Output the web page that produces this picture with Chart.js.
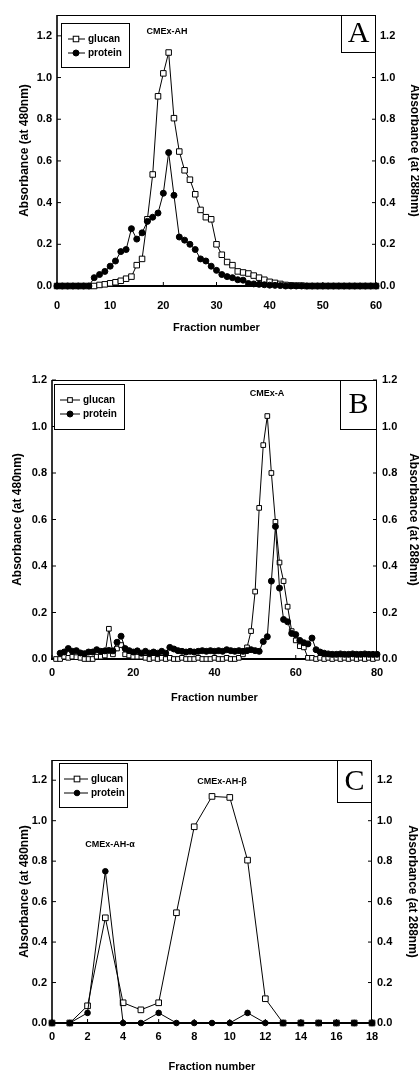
<!DOCTYPE html>
<html><head><meta charset="utf-8">
<script src="https://cdn.jsdelivr.net/npm/chart.js@4.4.0/dist/chart.umd.min.js"></script>
<style>
html,body{margin:0;padding:0;background:#fff;width:419px;height:1072px;overflow:hidden}
canvas{position:absolute;left:0;display:block}
</style></head><body>
<canvas id="ca" width="419" height="345" style="top:0px"></canvas>
<canvas id="cb" width="419" height="360" style="top:345px"></canvas>
<canvas id="cc" width="419" height="367" style="top:705px"></canvas>
<script>
// ---------------- DATA ----------------
const fractionsA = [0,1,2,3,4,5,6,7,8,9,10,11,12,13,14,15,16,17,18,19,20,21,22,23,24,25,26,27,28,29,30,31,32,33,34,35,36,37,38,39,40,41,42,43,44,45,46,47,48,49,50,51,52,53,54,55,56,57,58,59,60];
const glucanA = [0,0,0,0,0,0,0, 0.0,0.005,0.008,0.013,0.018,0.025,0.035,0.045,0.10,0.13,0.32,0.535,0.91,1.02,1.12,0.805,0.645,0.555,0.51,0.44,0.365,0.33,0.32,0.20,0.15,0.115,0.10,0.07,0.065,0.06,0.05,0.04,0.03,0.02,0.015,0.01,0.005,0.003,0.002,0.002, 0,0,0,0,0,0,0,0,0,0,0,0,0,0];
const proteinA = [0,0,0,0,0,0,0, 0.04,0.055,0.07,0.095,0.12,0.165,0.175,0.275,0.225,0.255,0.31,0.33,0.35,0.445,0.64,0.435,0.235,0.22,0.2,0.175,0.13,0.12,0.095,0.075,0.055,0.045,0.04,0.03,0.028,0.012,0.01,0.008,0.006,0.004,0.003,0.002, 0,0,0,0,0,0,0,0,0,0,0,0,0,0,0,0,0,0];
const xTicksA = [0,10,20,30,40,50,60];

const fractionsB = [0,1,2,3,4,5,6,7,8,9,10,11,12,13,14,15,16,17,18,19,20,21,22,23,24,25,26,27,28,29,30,31,32,33,34,35,36,37,38,39,40,41,42,43,44,45,46,47,48,49,50,51,52,53,54,55,56,57,58,59,60,61,62,63,64,65,66,67,68,69,70,71,72,73,74,75,76,77,78,79,80];
const glucanB = [null,
  0.0,0.0,0.01,0.005,0.01,0.008,0.005,0.0,0.0,0.0,      // 1-10
  0.01,0.01,0.015,0.13,0.02,0.045,0.06,0.02,0.015,0.01, // 11-20
  0.01,0.01,0.005,0.0,0.005,0.0,0.005,0.0,0.005,0.0,    // 21-30
  0.0,0.005,0.0,0.0,0.0,0.005,0.0,0.0,0.0,0.005,        // 31-40
  0.0,0.0,0.005,0.0,0.0,0.005,0.02,0.05,0.12,0.29,      // 41-50
  0.65,0.92,1.045,0.80,0.59,0.415,0.335,0.225,0.12,0.08,// 51-60
  0.055,0.05,0.005,0.005,0.0,0.005,0.0,0.005,0.0,0.005, // 61-70
  0.0,0.005,0.0,0.005,0.0,0.005,0.0,0.005,0.0,0.005];   // 71-80
const proteinB = [null,null,
  0.025,0.03,0.045,0.033,0.036,0.026,0.023,0.03,0.03,   // 2-10
  0.04,0.033,0.035,0.037,0.035,0.072,0.098,0.045,0.036,0.03, // 11-20
  0.035,0.025,0.033,0.025,0.03,0.025,0.033,0.025,0.05,0.043, // 21-30
  0.036,0.033,0.03,0.033,0.03,0.033,0.036,0.033,0.036,0.033, // 31-40
  0.036,0.033,0.04,0.036,0.033,0.036,0.033,0.036,0.04,0.036, // 41-50
  0.033,0.075,0.096,0.335,0.57,0.305,0.17,0.16,0.11,0.105,   // 51-60
  0.08,0.07,0.065,0.09,0.04,0.03,0.025,0.022,0.02,0.02,      // 61-70
  0.022,0.02,0.02,0.022,0.02,0.02,0.022,0.02,0.02,0.02];     // 71-80
const xTicksB = [0,20,40,60,80];

const fractionsC = [0,1,2,3,4,5,6,7,8,9,10,11,12,13,14,15,16,17,18];
const glucanC  = [0,0,0.085,0.52,0.10,0.065,0.10,0.545,0.97,1.12,1.115,0.805,0.12,0,0,0,0,0,0];
const proteinC = [0,0,0.05,0.75,0,0,0.05,0,0,0,0,0.05,0,0,0,0,0,0,0];
const xTicksC = [0,2,4,6,8,10,12,14,16,18];

const yTicks = [0,0.2,0.4,0.6,0.8,1.0,1.2];
const seriesNames = ['glucan','protein'];
const xTitle = 'Fraction number';
const yTitleLeft = 'Absorbance (at 480nm)';
const yTitleRight = 'Absorbance (at 288nm)';

// ---------------- DRAWING ----------------
const FONT = "'Liberation Sans', Arial, Helvetica, sans-serif";
const SERIF = "'Liberation Serif', 'Times New Roman', serif";

function pts(xs, ys){ const o=[]; xs.forEach((x,i)=>{ if(ys[i]!==null && ys[i]!==undefined) o.push({x:x,y:ys[i]}); }); return o; }

function drawMarker(ctx, style, r, x, y){
  ctx.save();
  ctx.lineWidth = 1; ctx.strokeStyle = '#000';
  if(style==='rect'){
    const s = Math.SQRT1_2*r;
    ctx.fillStyle='#fff';
    ctx.fillRect(x-s,y-s,2*s,2*s); ctx.strokeRect(x-s,y-s,2*s,2*s);
  } else {
    ctx.fillStyle='#000';
    ctx.beginPath(); ctx.arc(x,y,r,0,Math.PI*2); ctx.fill(); ctx.stroke();
  }
  ctx.restore();
}

const decor = {
  id:'decor',
  beforeDatasetsDraw(chart, args, o){
    const {ctx, chartArea:a, scales} = chart;
    ctx.save();
    ctx.strokeStyle='#000';
    ctx.lineWidth=1;
    ctx.beginPath(); ctx.moveTo(a.left, a.top+0.5); ctx.lineTo(a.right, a.top+0.5); ctx.stroke();
    ctx.beginPath(); ctx.moveTo(a.right-0.5, a.top); ctx.lineTo(a.right-0.5, a.bottom); ctx.stroke();
    ctx.lineWidth=1.6;
    ctx.beginPath(); ctx.moveTo(a.left, a.top); ctx.lineTo(a.left, a.bottom+1); ctx.stroke();
    ctx.lineWidth=2;
    ctx.beginPath(); ctx.moveTo(a.left-1, a.bottom); ctx.lineTo(a.right, a.bottom); ctx.stroke();
    ctx.lineWidth=1;
    scales.x.ticks.forEach(t=>{const p=scales.x.getPixelForValue(t.value); ctx.beginPath(); ctx.moveTo(p,a.bottom); ctx.lineTo(p,a.bottom-4); ctx.stroke();});
    scales.y.ticks.forEach(t=>{const p=scales.y.getPixelForValue(t.value); ctx.beginPath(); ctx.moveTo(a.left,p); ctx.lineTo(a.left+4,p); ctx.stroke();});
    scales.y2.ticks.forEach(t=>{const p=scales.y2.getPixelForValue(t.value); ctx.beginPath(); ctx.moveTo(a.right,p); ctx.lineTo(a.right-4,p); ctx.stroke();});
    ctx.restore();
  },
  afterDraw(chart, args, o){
    const {ctx, chartArea:a, scales} = chart;
    ctx.save();
    // legend box
    const lg = o.legend;
    const L = a.left+lg.dx, T = a.top+lg.dy;
    ctx.fillStyle='#fff'; ctx.fillRect(L,T,lg.w,lg.h);
    ctx.strokeStyle='#000'; ctx.lineWidth=1; ctx.strokeRect(L+0.5,T+0.5,lg.w,lg.h);
    chart.data.datasets.forEach((ds,i)=>{
      const yy = T + lg.rows[i];
      ctx.strokeStyle='#000'; ctx.lineWidth=1;
      ctx.beginPath(); ctx.moveTo(L+lg.l0,yy); ctx.lineTo(L+lg.l1,yy); ctx.stroke();
      drawMarker(ctx, ds.pointStyle, ds.pointRadius, L+lg.m, yy);
      ctx.fillStyle='#000'; ctx.font='bold 10px '+FONT; ctx.textBaseline='middle'; ctx.textAlign='left';
      ctx.fillText(ds.label, L+lg.t, yy);
    });
    // letter box
    const lb = o.letter;
    ctx.fillStyle='#fff'; ctx.fillRect(a.right-lb.w, a.top, lb.w, lb.h);
    ctx.strokeStyle='#000'; ctx.lineWidth=1; ctx.strokeRect(a.right-lb.w+0.5, a.top+0.5, lb.w-1, lb.h);
    ctx.fillStyle='#000'; ctx.font='30px '+SERIF; ctx.textAlign='center'; ctx.textBaseline='middle';
    ctx.fillText(lb.text, a.right-lb.w/2, a.top+lb.h/2+1);
    // annotations
    ctx.font='bold 9px '+FONT; ctx.textAlign='center'; ctx.textBaseline='middle';
    (o.notes||[]).forEach(n=>{
      ctx.fillText(n.text, scales.x.getPixelForValue(n.x), scales.y.getPixelForValue(n.y));
    });
    ctx.restore();
  }
};

function makeChart(id, c){
  const tickFont = {family:FONT, size:11, weight:'bold', lineHeight:1};
  const yScale = (pos, title, w, tpad, tickPad) => ({
    type:'linear', position:pos, min:0, max:c.ymax,
    afterBuildTicks: s => { s.ticks = yTicks.map(v=>({value:v})); },
    afterFit: s => { s.width = w; },
    ticks:{font:tickFont, color:'#000', padding:tickPad, callback:v=>Number(v).toFixed(1)},
    grid:{display:false, drawTicks:false}, border:{display:false},
    title:{display:true, text:title, color:'#000', font:{family:FONT,size:12,weight:'bold',lineHeight:1}, padding:{top:tpad,bottom:0}}
  });
  return new Chart(document.getElementById(id), {
    type:'line',
    data:{datasets:[
      {label:seriesNames[0], data:pts(c.fx,c.g), yAxisID:'y', order:2, borderColor:'#000', borderWidth:1,
       pointStyle:'rect', pointRadius:c.sq, pointBorderWidth:1, pointBackgroundColor:'#fff', pointBorderColor:'#000', tension:0, clip:false},
      {label:seriesNames[1], data:pts(c.fx,c.p), yAxisID:'y2', order:1, borderColor:'#000', borderWidth:1,
       pointStyle:'circle', pointRadius:c.dot, pointBorderWidth:1, pointBackgroundColor:'#000', pointBorderColor:'#000', tension:0, clip:false}
    ]},
    options:{
      responsive:false, animation:false, events:[],
      layout:{padding:{top:c.padTop,left:0,right:0,bottom:0}},
      plugins:{legend:{display:false}, tooltip:{enabled:false}, decor:c.decor},
      scales:{
        x:{type:'linear', min:0, max:c.xmax,
          afterBuildTicks: s => { s.ticks = c.xt.map(v=>({value:v})); },
          afterFit: s => { s.height = c.xh; },
          ticks:{font:tickFont, color:'#000', padding:c.xtp, maxRotation:0, autoSkip:false},
          grid:{display:false, drawTicks:false}, border:{display:false},
          title:{display:true, text:xTitle, color:'#000', font:{family:FONT,size:11,weight:'bold',lineHeight:1}, padding:{top:0,bottom:c.xtitle}}
        },
        y: yScale('left', yTitleLeft, c.lw, c.ltp, 5),
        y2: yScale('right', yTitleRight, c.rw, c.rtp, c.rtk)
      }
    },
    plugins:[decor]
  });
}

makeChart('ca', {fx:fractionsA, g:glucanA, p:proteinA, xt:xTicksA, xmax:60, ymax:1.3,
  padTop:15, lw:57, rw:43, xh:59, xtp:14.5, xtitle:11.5, ltp:19, rtp:-1, rtk:4, sq:3.9, dot:3,
  decor:{legend:{dx:4,dy:8,w:68,h:44,rows:[16,30],l0:7,l1:24,m:15,t:27},
         letter:{text:'A',w:35,h:37},
         notes:[{text:'CMEx-AH', x:20.7, y:1.22}]}});

makeChart('cb', {fx:fractionsB, g:glucanB, p:proteinB, xt:xTicksB, xmax:80, ymax:1.2,
  padTop:35, lw:52, rw:42, xh:46, xtp:8.5, xtitle:1.5, ltp:12, rtp:0, rtk:5, sq:3.3, dot:3,
  decor:{legend:{dx:2,dy:4,w:70,h:45,rows:[16,30],l0:6,l1:26,m:16,t:29},
         letter:{text:'B',w:37,h:49},
         notes:[{text:'CMEx-A', x:52.9, y:1.14}]}});

makeChart('cc', {fx:fractionsC, g:glucanC, p:proteinC, xt:xTicksC, xmax:18, ymax:1.3,
  padTop:55, lw:52, rw:47, xh:49, xtp:8.5, xtitle:0, ltp:19, rtp:1, rtk:5, sq:4, dot:2.8,
  decor:{legend:{dx:7,dy:3,w:68,h:44,rows:[16,30],l0:5,l1:29,m:18,t:32},
         letter:{text:'C',w:35,h:42},
         notes:[{text:'CMEx-AH-β', x:9.56, y:1.196},{text:'CMEx-AH-α', x:3.26, y:0.88}]}});
</script>
</body></html>
